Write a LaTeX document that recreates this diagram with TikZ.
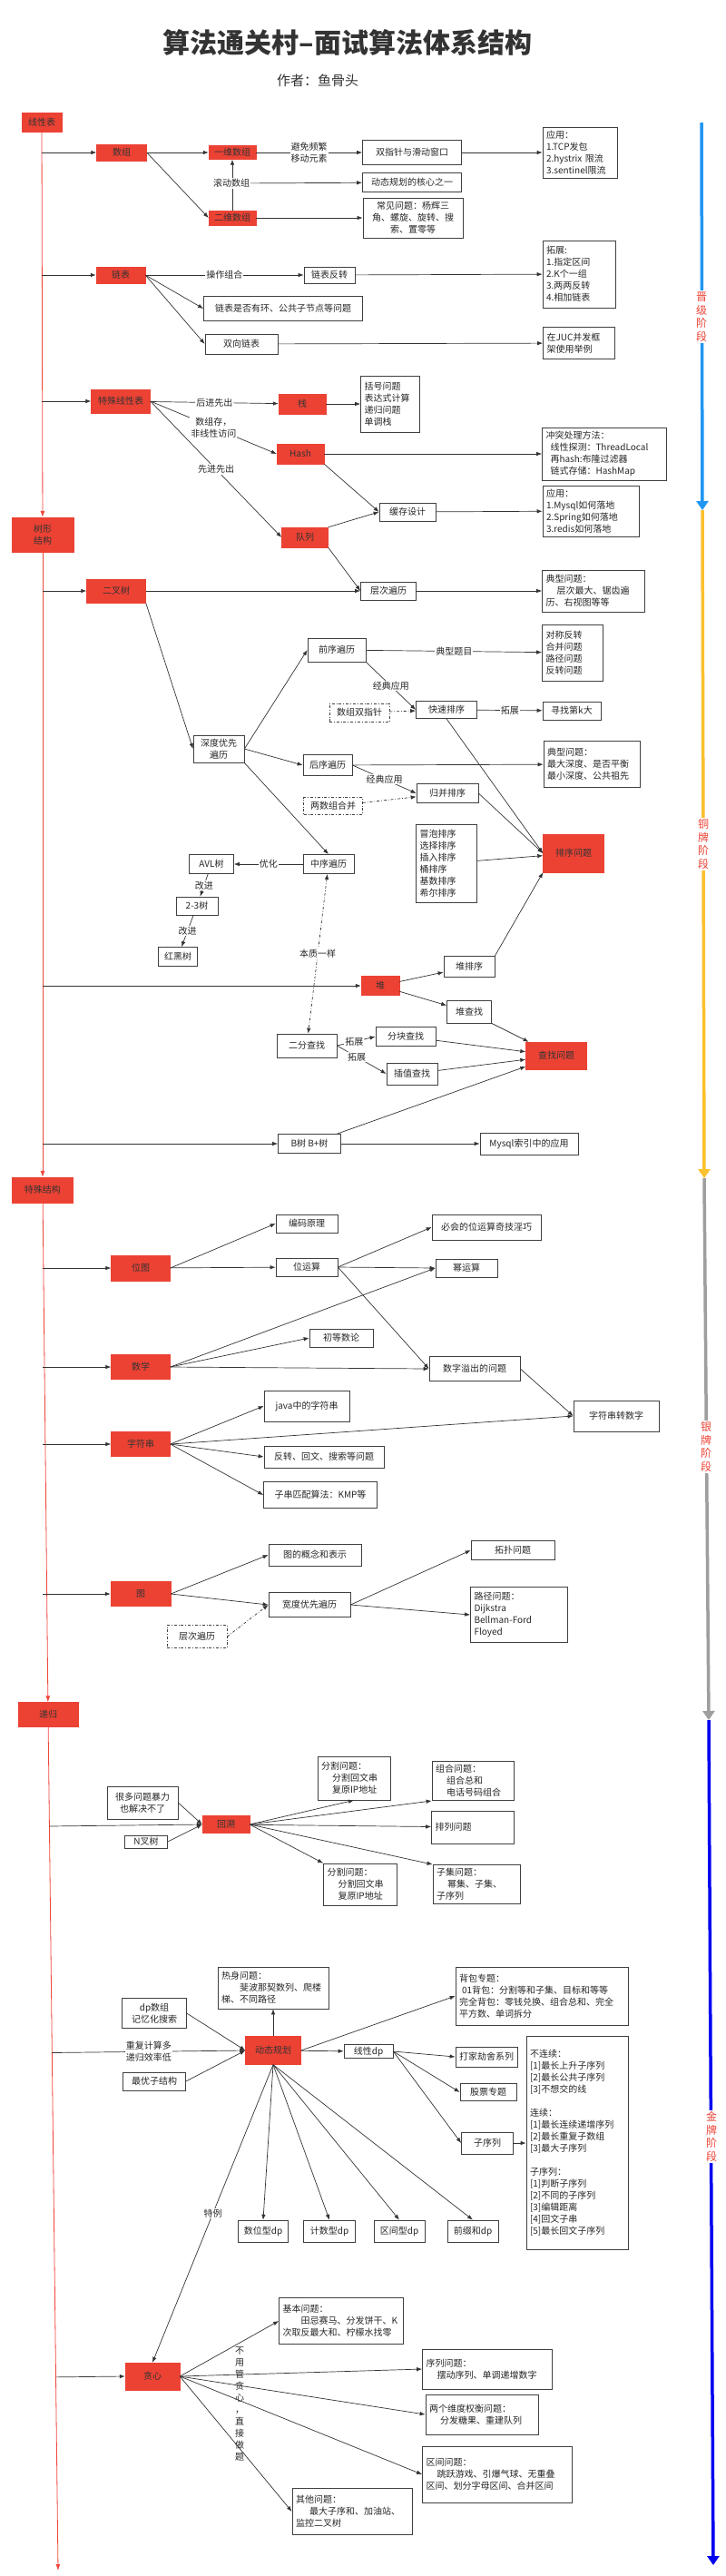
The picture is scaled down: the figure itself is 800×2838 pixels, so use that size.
\documentclass[tikz,border=0pt]{standalone}
\usepackage{fontspec}
\setmainfont{Noto Sans CJK SC}
\usetikzlibrary{arrows.meta,positioning,calc}
\definecolor{hired}{RGB}{236,66,52}
\definecolor{trunkred}{RGB}{240,70,60}
\definecolor{lineg}{RGB}{51,51,51}
\definecolor{stblue}{RGB}{33,150,243}
\definecolor{styellow}{RGB}{251,192,45}
\definecolor{stgray}{RGB}{158,158,158}
\definecolor{stdeep}{RGB}{0,0,240}

\begin{document}
\begin{tikzpicture}[x=1pt, y=-1pt,
  font=\fontsize{10}{13}\selectfont,
  sz/.style 2 args={minimum width=#1pt, minimum height=#2pt},
  box/.style={draw=black!75, line width=0.7pt, fill=white, align=center,
    inner sep=4pt, text=black!85},
  lbox/.style 2 args={box, align=left, text width=#1pt, minimum height=#2pt},
  hot/.style={fill=hired, draw=hired, align=center, inner sep=2pt, text=black!80},
  dbox/.style={box, dash dot},
  lab/.style={fill=white, inner sep=1pt, align=center, text=black!85},
  stg/.style={fill=white, text=hired, align=center, inner sep=2pt,
    font=\fontsize{12}{14.5}\selectfont},
  tr/.style={draw=trunkred, line width=0.8pt, -{Latex[length=7pt,width=5pt]}},
  stage/.style={line width=3.5pt, -{Triangle[length=10pt,width=13pt]}},
  >={Latex[length=6pt,width=4.5pt]},
  every edge/.style={draw=lineg, ->, line width=0.7pt}]
  \useasboundingbox (0,0) rectangle (800,2838);
  \fill[white] (0,0) rectangle (800,2838);

  % title
  \node[font=\fontsize{30}{32}\selectfont\bfseries, text=black!80] (title) at (383,47) {算法通关村–面试算法体系结构};
  \node[font=\fontsize{15}{17}\selectfont, text=black!80] (author) at (350,89) {作者：鱼骨头};

  % main line
  \node[hot, sz={44}{21}] (lin) at (46,135) {线性表};
  \node[hot, sz={68}{38}] (tree) at (47,589) {树形\\结构};
  \node[hot, sz={67}{28}] (special) at (47,1311) {特殊结构};
  \node[hot, sz={66}{27}] (recur) at (53,1889) {递归};
  \coordinate (tend) at (64,2832);
  \draw[tr] (lin) -- (tree);
  \draw[tr] (tree) -- (special);
  \draw[tr] (special) -- (recur);
  \draw[tr] (recur) -- (tend);

  % arrays
  \node[hot, sz={55}{18}] (arr) at (134,168) {数组};
  \node[hot, sz={52}{15}] (arr1) at (256,168) {一维数组};
  \node[hot, sz={52}{16}] (arr2) at (256,240) {二维数组};
  \node[box, sz={109}{27}] (twoptr) at (454,168) {双指针与滑动窗口};
  \node[lbox={74}{56}] (app1) at (639,168) {应用：\\1.TCP发包\\2.hystrix 限流\\3.sentinel限流};
  \node[box, sz={109}{21}] (dpcore) at (454,201) {动态规划的核心之一};
  \node[box, sz={110}{44}] (common) at (455,240) {常见问题：杨辉三\\角、螺旋、旋转、搜\\索、置零等};
  \draw (lin.south |- arr) edge (arr.west);
  \draw (arr) edge (arr1);
  \draw (arr.east) edge (arr2.west);
  \draw (arr1) edge node[lab] {避免频繁\\移动元素} (twoptr);
  \draw (twoptr) edge (app1);
  \draw (arr2.north) edge (arr1.south);
  \node[lab] (roll) at (255,202) {滚动数组};
  \draw (roll) edge (dpcore);
  \draw (arr2) edge (common);

  % linked lists
  \node[hot, sz={54}{18}] (list) at (133,303) {链表};
  \node[box, sz={56}{18}] (lrev) at (363,303) {链表反转};
  \node[lbox={72}{74}] (ext1) at (638,302) {拓展:\\1.指定区间\\2.K个一组\\3.两两反转\\4.相加链表};
  \node[box, sz={175}{27}] (cycle) at (312,340) {链表是否有环、公共子节点等问题};
  \node[box, sz={80}{22}] (dlist) at (266,379) {双向链表};
  \node[lbox={71}{35}] (juc) at (638,378) {在JUC并发框\\架使用举例};
  \draw (lin.south |- list) edge (list.west);
  \draw (list) edge node[lab] {操作组合} (lrev);
  \draw (lrev) edge (ext1);
  \draw (list.east) edge (cycle.west);
  \draw (list.east) edge (dlist.west);
  \draw (dlist) edge (juc);

  % stack, hash, queue
  \node[hot, sz={65}{26}] (spec) at (133,442) {特殊线性表};
  \node[hot, sz={52}{22}] (stack) at (333,445) {栈};
  \node[lbox={57}{62}] (stackp) at (430,445) {括号问题\\表达式计算\\递归问题\\单调栈};
  \node[hot, sz={52}{22}] (hash) at (331,500) {Hash};
  \node[lbox={129}{53}] (conflict) at (666,500) {冲突处理方法：\\\hspace*{5pt}线性探测：ThreadLocal\\\hspace*{5pt}再hash:布隆过滤器\\\hspace*{5pt}链式存储：HashMap};
  \node[hot, sz={51}{22}] (queue) at (336,592) {队列};
  \node[box, sz={62}{20}] (cache) at (449,564) {缓存设计};
  \node[lbox={98}{53}] (app2) at (651,563) {应用：\\1.Mysql如何落地\\2.Spring如何落地\\3.redis如何落地};
  \draw (lin.south |- spec) edge (spec.west);
  \draw (spec) edge node[lab] {后进先出} (stack);
  \draw (stack) edge (stackp);
  \draw (spec.east) edge node[lab] {数组存，\\非线性访问} (hash.west);
  \draw (spec.east) edge node[lab] {先进先出} (queue.west);
  \draw (hash) edge (conflict);
  \draw (hash.south east) edge (cache.west);
  \draw (queue.north east) edge (cache.west);
  \draw (cache) edge (app2);

  % binary tree
  \node[hot, sz={65}{26}] (bt) at (128,651) {二叉树};
  \node[box, sz={61}{20}] (level) at (428,651) {层次遍历};
  \node[lbox={105}{46}] (typ1) at (654,651) {典型问题：\\\hspace*{12pt}层次最大、锯齿遍\\历、右视图等等};
  \node[box, sz={64}{26}] (pre) at (371,716) {前序遍历};
  \node[lbox={59}{62}] (typq) at (631,719) {对称反转\\合并问题\\路径问题\\反转问题};
  \node[box, sz={67}{19}] (quick) at (492,782) {快速排序};
  \node[dbox, sz={66}{20}] (dptr) at (396,785) {数组双指针};
  \node[box, sz={64}{20}] (kth) at (630,783) {寻找第k大};
  \node[box, sz={56}{29}] (dfs) at (241,825) {深度优先\\遍历};
  \node[box, sz={54}{23}] (post) at (361,843) {后序遍历};
  \node[lbox={98}{51}] (typ2) at (652,842) {典型问题：\\最大深度、是否平衡\\最小深度、公共祖先};
  \node[box, sz={68}{21}] (merge) at (493,874) {归并排序};
  \node[dbox, sz={65}{19}] (mgtwo) at (367,888) {两数组合并};
  \node[lbox={59}{86}] (sortlist) at (492,951) {冒泡排序\\选择排序\\插入排序\\桶排序\\基数排序\\希尔排序};
  \node[hot, sz={67}{42}] (sortp) at (632,940) {排序问题};
  \node[box, sz={56}{21}] (in) at (362,952) {中序遍历};
  \node[box, sz={49}{21}] (avl) at (233,952) {AVL树};
  \node[box, sz={46}{20}] (t23) at (217,998) {2-3树};
  \node[box, sz={43}{21}] (rbt) at (196,1054) {红黑树};
  \draw (tree.south |- bt) edge (bt.west);
  \draw (bt) edge (level);
  \draw (queue.south east) edge (level.west);
  \draw (level) edge (typ1);
  \draw (bt.south east) edge (dfs.west);
  \draw (dfs.east) edge (pre.west);
  \draw (dfs.east) edge (post.west);
  \draw (dfs.south east) edge (in.north);
  \draw (pre) edge node[lab] {典型题目} (typq);
  \draw (pre.south east) edge node[lab] {经典应用} (quick.west);
  \draw (dptr) edge[dash dot] (quick);
  \draw (quick) edge node[lab] {拓展} (kth);
  \draw (quick.south) edge (sortp.west);
  \draw (post) edge (typ2);
  \draw (post.east) edge node[lab] {经典应用} (merge.west);
  \draw (mgtwo) edge[dash dot] (merge);
  \draw (merge.east) edge (sortp.west);
  \draw (sortlist) edge (sortp);
  \draw (in) edge node[lab] {优化} (avl);
  \draw (avl) edge node[lab] {改进} (t23);
  \draw (t23) edge node[lab] {改进} (rbt);

  % heap and search
  \node[box, sz={56}{23}] (heaps) at (517,1065) {堆排序};
  \node[hot, sz={42}{21}] (heap) at (419,1086) {堆};
  \node[box, sz={49}{25}] (heapf) at (517,1115) {堆查找};
  \node[box, sz={66}{26}] (bins) at (338,1152) {二分查找};
  \node[box, sz={66}{21}] (block) at (447,1142) {分块查找};
  \node[box, sz={56}{24}] (interp) at (454,1183) {插值查找};
  \node[hot, sz={67}{30}] (findp) at (613,1163) {查找问题};
  \node[box, sz={69}{21}] (btree) at (341,1260) {B树 B+树};
  \node[box, sz={108}{24}] (mysql) at (583,1260) {Mysql索引中的应用};
  \draw (in) edge[dash dot, <->] node[lab] {本质一样} (bins);
  \draw (tree.south |- heap) edge (heap.west);
  \draw (heap) edge (heaps);
  \draw (heap) edge (heapf);
  \draw (heaps.north east) edge (sortp.south west);
  \draw (heapf) edge (findp);
  \draw (bins.east) edge node[lab, pos=0.45] {拓展} (block.west);
  \draw (bins.east) edge node[lab, pos=0.4] {拓展} (interp.west);
  \draw (block) edge (findp);
  \draw (interp) edge (findp);
  \draw (tree.south |- btree) edge (btree.west);
  \draw (btree) edge (findp);
  \draw (btree) edge (mysql);

  % bitmap, maths, strings
  \node[hot, sz={65}{28}] (bitmap) at (155,1397) {位图};
  \node[box, sz={68}{20}] (code) at (338,1348) {编码原理};
  \node[box, sz={68}{20}] (bitop) at (338,1396) {位运算};
  \node[box, sz={120}{28}] (trick) at (536,1352) {必会的位运算奇技淫巧};
  \node[box, sz={68}{20}] (pow) at (514,1397) {幂运算};
  \node[hot, sz={65}{27}] (math) at (155,1506) {数学};
  \node[box, sz={70}{20}] (numth) at (376,1474) {初等数论};
  \node[box, sz={100}{27}] (ovf) at (523,1508) {数字溢出的问题};
  \node[box, sz={94}{34}] (s2n) at (679,1560) {字符串转数字};
  \node[hot, sz={65}{27}] (str) at (155,1591) {字符串};
  \node[box, sz={94}{34}] (jstr) at (338,1549) {java中的字符串};
  \node[box, sz={132}{24}] (rev) at (357,1605) {反转、回文、搜索等问题};
  \node[box, sz={125}{29}] (kmp) at (353,1647) {子串匹配算法：KMP等};
  \draw (special.south |- bitmap) edge (bitmap.west);
  \draw (bitmap.east) edge (code.west);
  \draw (bitmap) edge (bitop);
  \draw (bitop.east) edge (trick.west);
  \draw (bitop.east) edge (pow.west);
  \draw (bitop.east) edge (ovf.west);
  \draw (special.south |- math) edge (math.west);
  \draw (math.east) edge (pow.west);
  \draw (math.east) edge (numth.west);
  \draw (math.east) edge (ovf.west);
  \draw (ovf.east) edge (s2n.west);
  \draw (special.south |- str) edge (str.west);
  \draw (str.east) edge (jstr.west);
  \draw (str.east) edge (s2n.west);
  \draw (str.east) edge (rev.west);
  \draw (str.east) edge (kmp.west);

  % graphs
  \node[hot, sz={66}{27}] (graph) at (155,1756) {图};
  \node[box, sz={102}{24}] (gdef) at (347,1713) {图的概念和表示};
  \node[box, sz={90}{27}] (bfs) at (341,1768) {宽度优先遍历};
  \node[box, sz={92}{21}] (topo) at (565,1708) {拓扑问题};
  \node[lbox={99}{61}] (path) at (572,1779) {路径问题：\\Dijkstra\\Bellman-Ford\\Floyed};
  \node[dbox, sz={66}{25}] (lvltwo) at (217,1803) {层次遍历};
  \draw (special.south |- graph) edge (graph.west);
  \draw (graph.east) edge (gdef.west);
  \draw (graph.east) edge (bfs.west);
  \draw (bfs.east) edge (topo.west);
  \draw (bfs.east) edge (path.west);
  \draw (lvltwo.east) edge[dash dot] (bfs.west);

  % backtracking
  \node[box, sz={78}{36}] (brute) at (157,1986) {很多问题暴力\\也解决不了};
  \node[box, sz={47}{14}, inner sep=2pt] (ntree) at (161,2029) {N叉树};
  \node[hot, sz={52}{19}] (back) at (249,2010) {回溯};
  \node[lbox={72}{48}] (splita) at (390,1959) {分割问题：\\\hspace*{12pt}分割回文串\\\hspace*{12pt}复原IP地址};
  \node[lbox={82}{41}] (comb) at (521,1962) {组合问题：\\\hspace*{12pt}组合总和\\\hspace*{12pt}电话号码组合};
  \node[lbox={83}{36}] (perm) at (521,2013) {排列问题};
  \node[lbox={73}{46}] (splitb) at (397,2076) {分割问题：\\\hspace*{12pt}分割回文串\\\hspace*{12pt}复原IP地址};
  \node[lbox={88}{39}] (subset) at (525,2076) {子集问题：\\\hspace*{12pt}幂集、子集、\\子序列};
  \draw ($(recur.south)!(back.west)!(tend)$) edge (back.west);
  \draw (brute.east) edge (back.west);
  \draw (ntree.east) edge (back.west);
  \draw (back.east) edge (splita.south);
  \draw (back.east) edge (comb.south west);
  \draw (back) edge (perm);
  \draw (back.east) edge (splitb.north west);
  \draw (back.east) edge (subset.north west);

  % dynamic programming
  \node[lbox={114}{46}] (warm) at (301,2190) {热身问题：\\\hspace*{20pt}斐波那契数列、爬楼\\梯、不同路径};
  \node[box, sz={71}{33}] (dparr) at (170,2218) {dp数组\\记忆化搜索};
  \node[box, sz={69}{20}] (opt) at (170,2293) {最优子结构};
  \node[hot, sz={61}{31}] (dp) at (301,2259) {动态规划};
  \node[lbox={182}{64}] (pack) at (597,2199) {背包专题：\\\hspace*{3pt}01背包：分割等和子集、目标和等等\\完全背包：零钱兑换、组合总和、完全\\平方数、单词拆分};
  \node[box, sz={54}{15}, inner sep=2pt] (ldp) at (406,2260) {线性dp};
  \node[box, sz={68}{22}] (rob) at (536,2266) {打家劫舍系列};
  \node[box, sz={62}{19}] (stock) at (538,2305) {股票专题};
  \node[box, sz={57}{24}] (subseq) at (537,2361) {子序列};
  \node[lbox={104}{235}] (big) at (636,2361) {不连续：\\{[1]}最长上升子序列\\{[2]}最长公共子序列\\{[3]}不想交的线\\[13pt]连续：\\{[1]}最长连续递增序列\\{[2]}最长重复子数组\\{[3]}最大子序列\\[13pt]子序列：\\{[1]}判断子序列\\{[2]}不同的子序列\\{[3]}编辑距离\\{[4]}回文子串\\{[5]}最长回文子序列};
  \node[box, sz={55}{24}] (digit) at (290,2458) {数位型dp};
  \node[box, sz={57}{24}] (count) at (363,2458) {计数型dp};
  \node[box, sz={56}{24}] (range) at (440,2458) {区间型dp};
  \node[box, sz={56}{24}] (prefix) at (521,2458) {前缀和dp};
  \draw ($(recur.south)!(dp.west)!(tend)$) edge node[lab] {重复计算多\\递归效率低} (dp.west);
  \draw (dparr.east) edge (dp.west);
  \draw (opt.east) edge (dp.west);
  \draw (dp) edge (warm);
  \draw (dp.east) edge (pack.west);
  \draw (dp) edge (ldp);
  \draw (ldp.east) edge (rob.west);
  \draw (ldp.east) edge (stock.west);
  \draw (ldp.east) edge (subseq.west);
  \draw (subseq) edge (big);
  \draw (dp.south) edge (digit.north);
  \draw (dp.south) edge (count.north);
  \draw (dp.south) edge (range.north);
  \draw (dp.south) edge (prefix.north);

  % greedy
  \node[hot, sz={60}{30}] (greedy) at (168,2618) {贪心};
  \node[lbox={129}{51}] (basic) at (376,2557) {基本问题：\\\hspace*{20pt}田忌赛马、分发饼干、K\\次取反最大和、柠檬水找零};
  \node[lbox={135}{44}] (seq) at (537,2610) {序列问题：\\\hspace*{12pt}摆动序列、单调递增数字};
  \node[lbox={116}{44}] (two) at (531,2660) {两个维度权衡问题：\\\hspace*{12pt}分发糖果、重建队列};
  \node[lbox={157}{62}] (intv) at (548,2726) {区间问题：\\\hspace*{12pt}跳跃游戏、引爆气球、无重叠\\区间、划分字母区间、合并区间};
  \node[lbox={124}{51}] (other) at (388,2767) {其他问题：\\\hspace*{15pt}最大子序和、加油站、\\监控二叉树};
  \draw (dp.south) edge node[lab] {特例} (greedy.north);
  \draw ($(recur.south)!(greedy.west)!(tend)$) edge (greedy.west);
  \draw (greedy.east) edge (basic.west);
  \draw (greedy.east) edge (seq.west);
  \draw (greedy.east) edge (two.west);
  \draw (greedy.east) edge (intv.west);
  \draw (greedy.east) edge (other.west);
  \node[align=center, text=black!85] (direct) at (264,2649) {不\\用\\管\\贪\\心\\，\\直\\接\\做\\题};

  % stage bar
  \coordinate (s0) at (773,135);
  \coordinate (s1) at (774,562);
  \coordinate (s2) at (776,1298);
  \coordinate (s3) at (781,1895);
  \coordinate (s4) at (786,2826);
  \draw[stage, stblue] (s0) -- (s1);
  \draw[stage, styellow] (s1) -- (s2);
  \draw[stage, stgray] (s2) -- (s3);
  \draw[stage, stdeep] (s3) -- (s4);
  \node[stg] (stA) at (773,349) {晋\\级\\阶\\段};
  \node[stg] (stB) at (775,930) {铜\\牌\\阶\\段};
  \node[stg] (stC) at (778,1594) {银\\牌\\阶\\段};
  \node[stg] (stD) at (784,2354) {金\\牌\\阶\\段};
\end{tikzpicture}
\end{document}
